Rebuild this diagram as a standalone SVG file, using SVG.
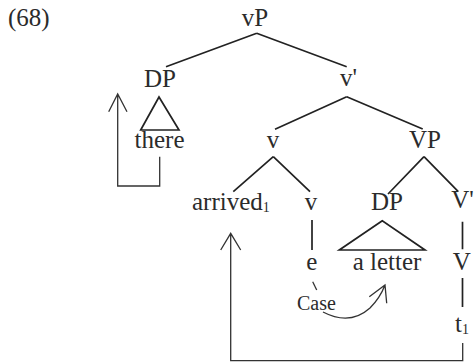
<svg xmlns="http://www.w3.org/2000/svg" width="474" height="363" viewBox="0 0 474 363">
<style>
text{font-family:"Liberation Serif","Times New Roman",serif;font-size:25px;fill:#2b2b2b}
.m{text-anchor:middle}
.sub{font-size:14px}
.case{font-size:20px}
.t{stroke:#222;stroke-width:1.7;fill:none}
.mv{stroke:#333;stroke-width:1.3;fill:none}
</style>
<rect width="474" height="363" fill="#fff"/>
<text x="8" y="26">(68)</text>
<g id="connectors">
<path class="t" d="M256.7,33.3L166,66.7M256.7,33.3L346.7,66.7M346.7,96.7L275,129.3M346.7,96.7L422.7,129M273.3,156.7L233.3,191.7M273.3,156.7L310,191.7M424,156.7L388,194M424,156.7L458.3,191.7M312,220V250M462.5,221.7V249.3M462.5,278V307"/>
<path class="t" d="M159,97L140.7,130H179Z"/>
<path class="t" d="M382.3,220.7L339.3,250H425Z"/>
<path class="mv" d="M159.7,156.7V186H117.7V94M108.7,111.7L117.7,94L127,111.7"/>
<path class="mv" d="M462.7,343V360.7H230.7V233.3M220.7,250L230.7,233.3L240.7,250"/>
<path class="mv" d="M312.7,281.7L316.7,290"/>
<path class="mv" d="M323,312Q350,326 370,308Q380,298 385,285M369.3,296.7L385,285L386.7,303.3"/>
</g>
<g id="vP"><text class="m" x="255" y="26">vP</text></g>
<g id="DP1"><text class="m" x="160" y="87">DP</text></g>
<g id="there"><text class="m" x="159.5" y="148">there</text></g>
<g id="vbar"><text class="m" x="348.5" y="86">v'</text></g>
<g id="v1"><text class="m" x="273" y="148">v</text></g>
<g id="VP"><text class="m" x="425" y="148">VP</text></g>
<g id="arrived"><text x="192" y="210">arrived<tspan class="sub" dy="2">1</tspan></text></g>
<g id="v2"><text class="m" x="311" y="210">v</text></g>
<g id="DP2"><text class="m" x="387" y="210">DP</text></g>
<g id="Vbar"><text class="m" x="462.5" y="208">V'</text></g>
<g id="e"><text class="m" x="311.7" y="270">e</text></g>
<g id="aletter"><text class="m" x="387" y="270">a letter</text></g>
<g id="V"><text class="m" x="461.7" y="270">V</text></g>
<g id="t1"><text x="455" y="331.7">t<tspan class="sub" dy="2">1</tspan></text></g>
<g id="case"><text class="case" x="297" y="310">Case</text></g>
</svg>
